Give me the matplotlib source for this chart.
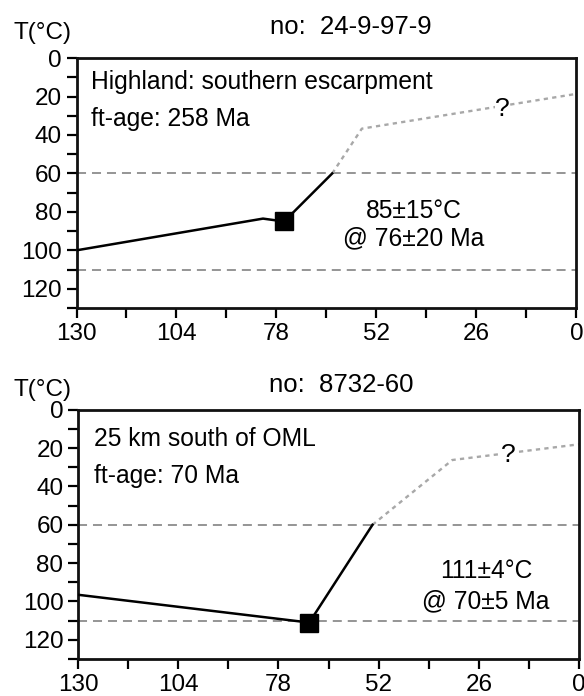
import matplotlib
matplotlib.use("Agg")
import matplotlib.pyplot as plt
from matplotlib.ticker import MultipleLocator, FixedLocator

plt.rcParams['font.family'] = ['Liberation Sans', 'DejaVu Sans']

# ---- data: time-temperature paths (age in Ma, temperature in °C) ----
sample_ids = ["no:  24-9-97-9", "no:  8732-60"]
locations = ["Highland: southern escarpment", "25 km south of OML"]
ft_ages = ["ft-age: 258 Ma", "ft-age: 70 Ma"]

# constrained (solid) path segments
top_solid_age = [130, 81.5, 76, 63.5]
top_solid_temp = [100, 83.5, 85, 60]
bot_solid_age = [130, 70, 53.6]
bot_solid_temp = [96.5, 111, 60]

# unconstrained (dotted) continuation to present
top_dotted_age = [63.5, 55.8, 0]
top_dotted_temp = [60, 36.7, 18.6]
bot_dotted_age = [53.6, 32.9, 0]
bot_dotted_temp = [60, 26.2, 18]

# fission-track constraint (age, temperature) and its uncertainty text
ft_point_age = [76, 70]
ft_point_temp = [85, 111]
ft_point_age_err = [20, 5]
ft_point_temp_err = [15, 4]

# partial annealing zone boundaries
paz_bounds = [60, 110]

x_major = [130, 104, 78, 52, 26, 0]
x_minor = [117, 91, 65, 39, 13]

fig = plt.figure(figsize=(5.84, 6.96), dpi=100)

axes_rects = [
    [0.131, 0.5575, 0.856, 0.359],
    [0.1336, 0.0532, 0.858, 0.358],
]

solids = [(top_solid_age, top_solid_temp), (bot_solid_age, bot_solid_temp)]
dotteds = [(top_dotted_age, top_dotted_temp), (bot_dotted_age, bot_dotted_temp)]
text_x = [126.2, 125.8]
text_y = [(12.6, 31.6), (15.3, 34.5)]
anno_pos = [(42.3, 79.3, 94.0), (24.2, 84.2, 100.0)]
qmark_pos = [(19.2, 26.5), (18.4, 23.5)]

title_pos = [(0.601, 0.961), (0.585, 0.447)]
tlabel_pos = [(0.072, 0.9526), (0.0736, 0.4397)]

for i, rect in enumerate(axes_rects):
    ax = fig.add_axes(rect)
    ax.set_xlim(130, 0)
    ax.set_ylim(130, 0)

    for b in paz_bounds:
        ax.axhline(b, color='#8c8c8c', lw=1.3, dashes=(5, 3.3), zorder=1)

    da, dt = dotteds[i]
    ax.plot(da, dt, color='#a8a8a8', lw=1.7, dashes=(1.8, 1.8), zorder=2)

    sa, st = solids[i]
    ax.plot(sa, st, color='black', lw=1.8, zorder=3, solid_joinstyle='miter')

    ax.plot([ft_point_age[i]], [ft_point_temp[i]], marker='s', ms=13.5,
            color='black', zorder=4)

    qx, qy = qmark_pos[i]
    ax.text(qx, qy, "?", fontsize=19, ha='center', va='center', zorder=5,
            bbox=dict(facecolor='white', edgecolor='none', pad=0.3))

    ax.text(text_x[i], text_y[i][0], locations[i], fontsize=17.7,
            ha='left', va='center')
    ax.text(text_x[i], text_y[i][1], ft_ages[i], fontsize=17.7,
            ha='left', va='center')

    axx, ay1, ay2 = anno_pos[i]
    ax.text(axx, ay1, f"{ft_point_temp[i]}±{ft_point_temp_err[i]}°C",
            fontsize=17.7, ha='center', va='center')
    ax.text(axx, ay2, f"@ {ft_point_age[i]}±{ft_point_age_err[i]} Ma",
            fontsize=17.7, ha='center', va='center')

    ax.xaxis.set_major_locator(FixedLocator(x_major))
    ax.xaxis.set_minor_locator(FixedLocator(x_minor))
    ax.set_xticklabels([str(v) for v in x_major])
    ax.yaxis.set_major_locator(MultipleLocator(20))
    ax.yaxis.set_minor_locator(MultipleLocator(10))
    ax.set_yticks(range(0, 121, 20))

    ax.tick_params(axis='both', which='both', direction='out', length=7.5,
                   width=1.6, colors='black', labelsize=17.5)
    ax.tick_params(axis='x', which='major', pad=3)
    ax.tick_params(axis='y', which='major', pad=3)
    for sp in ax.spines.values():
        sp.set_linewidth(2.0)
        sp.set_color('#111111')

    fig.text(*title_pos[i], sample_ids[i], fontsize=18.5, ha='center', va='center')
    fig.text(*tlabel_pos[i], "T(°C)", fontsize=17.5, ha='center', va='center')

fig.savefig("out.png", dpi=100)
